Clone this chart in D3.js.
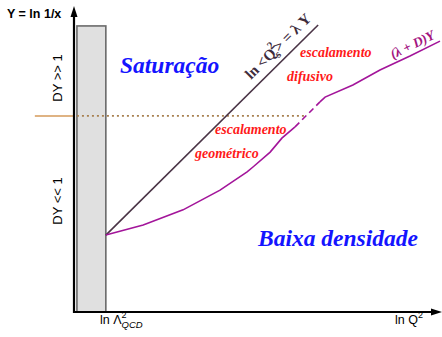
<!DOCTYPE html>
<html><head><meta charset="utf-8">
<script src="https://cdn.jsdelivr.net/npm/d3@7"></script>
<style>html,body{margin:0;padding:0;background:#fff;}svg{display:block;}</style>
</head><body>
<script>
// ---- data (abstract units: ln Q^2 horizontally, Y = ln 1/x vertically, 0..100) ----
const lnLambdaQCD = 8.7;            // x of ln Λ²_QCD
const startY = 25.3;                // Y where both curves start
const saturationLine = [[8.7, 25.3], [66.7, 94.4]];        // ln <Qs²> = λY
const diffusiveA = [[8.7,25.3],[18.9,28.6],[29.8,33.6],[39.9,40.1],[47.3,46.1],[48.9,47.7],[53.6,52.6],[56.8,57.2],[60.4,60.9]];
const diffusiveDash = [[60.4,60.9],[67.2,69.1]];
const diffusiveB = [[67.2,69.1],[68.6,70.7],[76.2,74.7],[83.6,79.6],[91.8,84.2],[100,89.1]];
const boundaryY = 64.5;             // DY ~ 1
const boundarySolidX = [-10.7, 0];
const boundaryDotX = [0.8, 63];
const rectX = [0.8, 8.7];
const rectY = [0, 94.1];
const axisLabels = {y: "Y = ln 1/x", x: "ln Q", lam: "ln Λ"};

const W = 442, H = 337;
const x = d3.scaleLinear().domain([0, 100]).range([74, 440]);
const y = d3.scaleLinear().domain([0, 100]).range([312, 8]);

const svg = d3.select("body").append("svg").attr("width", W).attr("height", H);
svg.append("rect").attr("width", W).attr("height", H).attr("fill", "#fff");

const sans = "'Liberation Sans', Arial, sans-serif";
const serif = "'Liberation Serif', 'Times New Roman', serif";

// grey band
svg.append("rect")
  .attr("x", x(rectX[0])).attr("y", y(rectY[1]))
  .attr("width", x(rectX[1]) - x(rectX[0])).attr("height", y(rectY[0]) - y(rectY[1]))
  .attr("fill", "#e0e0e0").attr("stroke", "#6a6a6a").attr("stroke-width", 1.6);

// boundary line
svg.append("line").attr("x1", x(boundarySolidX[0])).attr("x2", x(boundarySolidX[1]))
  .attr("y1", y(boundaryY)).attr("y2", y(boundaryY))
  .attr("stroke", "#d49a5a").attr("stroke-width", 1.5);
svg.append("line").attr("x1", x(boundaryDotX[0])).attr("x2", x(boundaryDotX[1]))
  .attr("y1", y(boundaryY)).attr("y2", y(boundaryY))
  .attr("stroke", "#a88050").attr("stroke-width", 1.6).attr("stroke-dasharray", "2,3");

// axes
svg.append("line").attr("x1", x(0)).attr("x2", x(0)).attr("y1", y(0) + 1).attr("y2", 14)
  .attr("stroke", "#000").attr("stroke-width", 2.2);
svg.append("path").attr("d", `M${x(0)},6 L${x(0)-3.5},17 L${x(0)+3.5},17 Z`).attr("fill", "#000");
svg.append("line").attr("x1", x(0) - 1).attr("x2", 433).attr("y1", y(0)).attr("y2", y(0))
  .attr("stroke", "#000").attr("stroke-width", 2.2);
svg.append("path").attr("d", `M442,${y(0)} L431,${y(0)-3.5} L431,${y(0)+3.5} Z`).attr("fill", "#000");

const line = d3.line().x(d => x(d[0])).y(d => y(d[1]));

svg.append("path").attr("d", line(saturationLine)).attr("fill", "none")
  .attr("stroke", "#4a3446").attr("stroke-width", 1.6);
svg.append("path").attr("d", line(diffusiveA)).attr("fill", "none")
  .attr("stroke", "#a3159a").attr("stroke-width", 1.6);
svg.append("path").attr("d", line(diffusiveDash)).attr("fill", "none")
  .attr("stroke", "#a3159a").attr("stroke-width", 1.6).attr("stroke-dasharray", "6,4");
svg.append("path").attr("d", line(diffusiveB)).attr("fill", "none")
  .attr("stroke", "#a3159a").attr("stroke-width", 1.6);

// axis labels
svg.append("text").attr("x", 7).attr("y", 18).attr("font-family", sans).attr("font-weight", "bold")
  .attr("font-size", 12.5).attr("fill", "#000").text(axisLabels.y);

const lx = svg.append("text").attr("x", 100).attr("y", 324).attr("font-family", sans)
  .attr("font-size", 12.5).attr("fill", "#000");
lx.append("tspan").text(axisLabels.lam);
lx.append("tspan").attr("font-size", 9).attr("dy", -6).text("2");
lx.append("tspan").attr("font-size", 9.5).attr("font-style", "italic").attr("dx", -5).attr("dy", 10).text("QCD");

const qx = svg.append("text").attr("x", 395).attr("y", 324).attr("font-family", sans)
  .attr("font-size", 12.5).attr("fill", "#000");
qx.append("tspan").text(axisLabels.x);
qx.append("tspan").attr("font-size", 9).attr("dy", -6).text("2");

svg.append("text").attr("transform", "translate(62,78) rotate(-90)").attr("text-anchor", "middle")
  .attr("font-family", sans).attr("font-size", 13).attr("fill", "#000").text("DY >> 1");
svg.append("text").attr("transform", "translate(62,201) rotate(-90)").attr("text-anchor", "middle")
  .attr("font-family", sans).attr("font-size", 13).attr("fill", "#000").text("DY << 1");

// region labels
svg.append("text").attr("x", 120).attr("y", 73).attr("font-family", serif).attr("font-weight", "bold")
  .attr("font-style", "italic").attr("font-size", 23.5).attr("fill", "#1414ff").text("Saturação");
svg.append("text").attr("x", 258).attr("y", 246).attr("font-family", serif).attr("font-weight", "bold")
  .attr("font-style", "italic").attr("font-size", 23.5).attr("fill", "#1414ff").text("Baixa densidade");

const red = "#ff1a1a";
[["escalamento", 300, 57], ["difusivo", 287, 81], ["escalamento", 215, 134], ["geométrico", 195, 158]]
  .forEach(([t, px, py]) => svg.append("text").attr("x", px).attr("y", py).attr("font-family", serif)
    .attr("font-weight", "bold").attr("font-style", "italic").attr("font-size", 14).attr("fill", red).text(t));

// line labels
const ang = Math.atan2(y(saturationLine[1][1]) - y(saturationLine[0][1]), x(saturationLine[1][0]) - x(saturationLine[0][0])) * 180 / Math.PI;
const sl = svg.append("text").attr("transform", `translate(251,80) rotate(${ang})`)
  .attr("font-family", serif).attr("font-weight", "bold").attr("font-size", 15).attr("fill", "#3e2c3c");
sl.append("tspan").text("ln <Q");
sl.append("tspan").attr("font-size", 11).attr("dy", -7).attr("dx", -1).text("2");
sl.append("tspan").attr("font-size", 11).attr("dy", 11).attr("dx", -6).text("s");
sl.append("tspan").attr("dy", -4).text("> = λ Y");

svg.append("text").attr("transform", "translate(393,59) rotate(-26)")
  .attr("font-family", serif).attr("font-weight", "bold").attr("font-style", "italic")
  .attr("font-size", 13.5).attr("fill", "#a3157f").text("(λ + D)Y");
</script>
</body></html>
